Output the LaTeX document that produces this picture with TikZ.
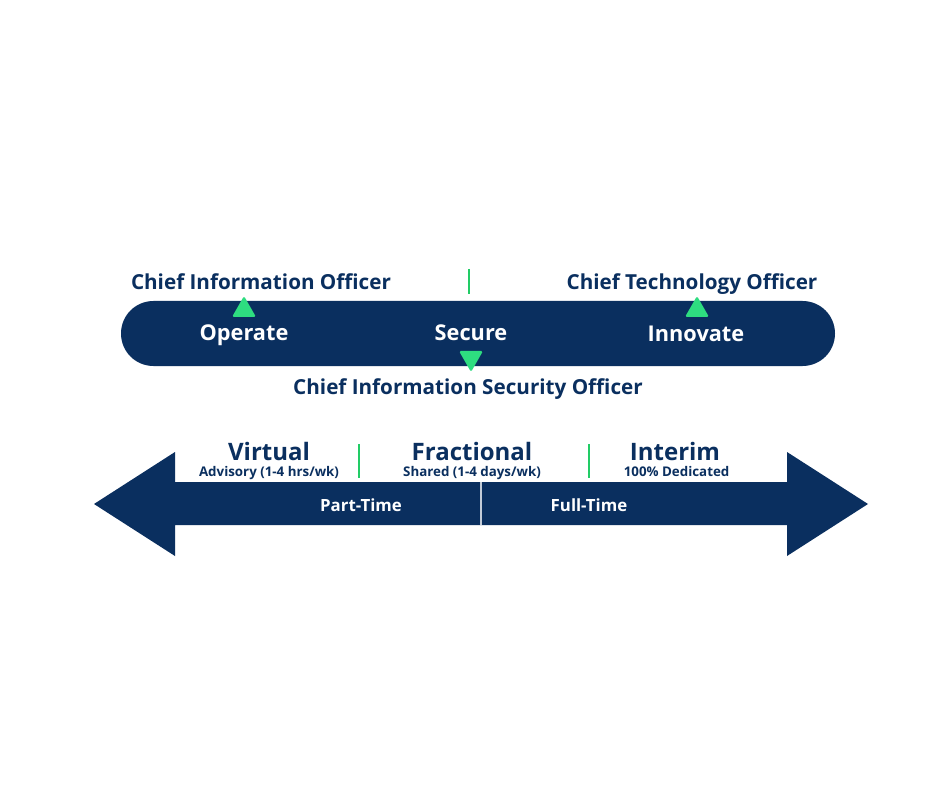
\documentclass[tikz,border=0pt]{standalone}
\usepackage{fontspec}
\setmainfont{Open Sans}
\usepackage{xcolor}
\usetikzlibrary{positioning}

\definecolor{navy}{HTML}{0A2F5F}
\definecolor{mint}{HTML}{2EDD80}
\definecolor{tick}{HTML}{22CC66}

\begin{document}
\begin{tikzpicture}[
    x=0.75pt, y=-0.75pt,
    rolenode/.style={text=navy, font=\bfseries\fontsize{15.5}{18}\selectfont, inner sep=0pt, anchor=base},
    bandnode/.style={text=white, font=\bfseries\fontsize{16.3}{19}\selectfont, inner sep=0pt, anchor=base},
    modenode/.style={text=navy, font=\bfseries\fontsize{18}{21}\selectfont, inner sep=0pt, anchor=base},
    subnode/.style={text=navy, font=\bfseries\fontsize{10}{12}\selectfont, inner sep=0pt, anchor=base},
    timenode/.style={text=white, font=\bfseries\fontsize{12.6}{15}\selectfont, inner sep=0pt, anchor=base},
    marker/.style={fill=mint, rounded corners=1.2pt},
    divider/.style={draw=tick, line width=2.2pt}
]
\fill[white] (0,0) rectangle (940,788);
\useasboundingbox (0,0) rectangle (940,788);

% Top band
\fill[navy, rounded corners=24.3pt] (121,301) rectangle (835,366);
\node[bandnode] (op) at (244,340) {Operate};
\node[bandnode] (sec) at (471,340) {Secure};
\node[bandnode] (inn) at (696,341.7) {Innovate};

% Roles
\node[rolenode] (cio) at (261,289.3) {Chief Information Officer};
\node[rolenode] (cto) at (692,289.3) {Chief Technology Officer};
\node[rolenode] (ciso) at (468,394) {Chief Information Security Officer};
\coordinate (t0) at (469,269);
\coordinate (t1) at (469,294);
\draw[divider] (t0) -- (t1);

% Markers
\fill[marker] (232,317) -- (244,296) -- (256,317) -- cycle;
\fill[marker] (685,317) -- (697,296) -- (709,317) -- cycle;
\fill[marker] (459,351) -- (483,351) -- (471,372) -- cycle;

% Double arrow
\fill[navy] (94,504) -- (175,452) -- (175,482) -- (787,482) -- (787,452)
    -- (868,504) -- (787,556) -- (787,525) -- (175,525) -- (175,556) -- cycle;
\coordinate (m0) at (481,482);
\coordinate (m1) at (481,525);
\draw[white!75!navy, line width=0.9pt] (m0) -- (m1);
\node[timenode] (pt) at (361,511) {Part-Time};
\node[timenode] (ft) at (589,511) {Full-Time};

% Engagement modes
\node[modenode] (virt) at (269,460) {Virtual};
\node[subnode] (virtsub) at ([yshift=-12.3pt]virt.base) {Advisory (1-4 hrs/wk)};
\node[modenode] (frac) at (472,460) {Fractional};
\node[subnode] (fracsub) at ([yshift=-12.3pt]frac.base) {Shared (1-4 days/wk)};
\node[modenode] (intr) at (675,460) {Interim};
\node[subnode] (intrsub) at ([yshift=-12.3pt, xshift=1.2pt]intr.base) {100\% Dedicated};

\coordinate (d0) at (359,444);
\coordinate (d1) at (359,478);
\coordinate (d2) at (589,444);
\coordinate (d3) at (589,478);
\draw[divider] (d0) -- (d1);
\draw[divider] (d2) -- (d3);
\end{tikzpicture}
\end{document}
